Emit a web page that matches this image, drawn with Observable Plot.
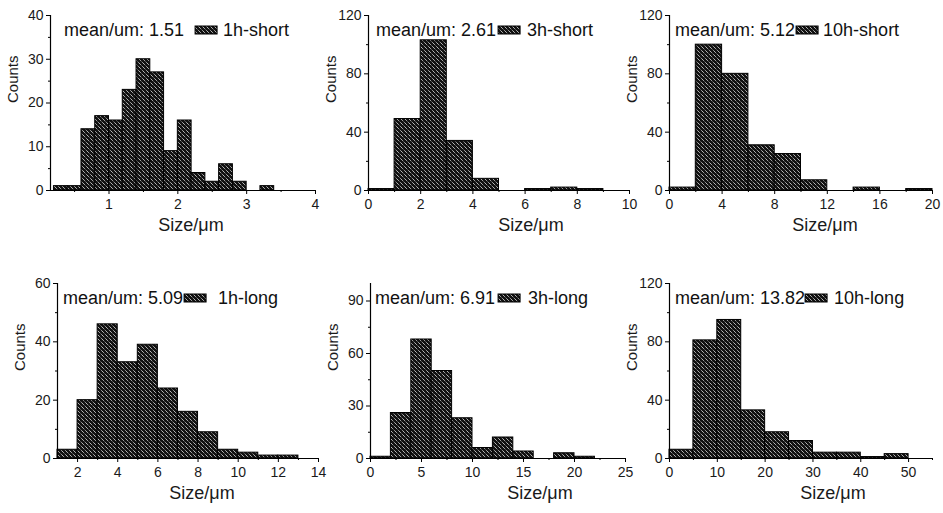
<!DOCTYPE html>
<html><head><meta charset="utf-8">
<script src="https://cdn.jsdelivr.net/npm/d3@7"></script>
<script src="https://cdn.jsdelivr.net/npm/@observablehq/plot@0.6"></script>
<style>
body{margin:0;background:#fff;}
#root{position:relative;width:943px;height:513px;overflow:hidden;background:#fff;font-family:"Liberation Sans",Arial,sans-serif;}
#root svg{position:absolute;overflow:visible;}
</style></head><body>
<svg width="0" height="0" style="position:absolute"><defs>
<pattern id="hatch" patternUnits="userSpaceOnUse" width="4" height="4">
<rect width="4" height="4" fill="#111"/>
<path d="M-1,-1 L5,5 M-1,3 L1,5 M3,-1 L5,1" stroke="#fff" stroke-width="1" stroke-dasharray="1,1"/>
</pattern></defs></svg>
<div id="root"></div>
<script>
// ---- data ----
const sampleNames = ["1h-short","3h-short","10h-short","1h-long","3h-long","10h-long"];
const meanLabels = ["1.51","2.61","5.12","5.09","6.91","13.82"];

const edges_1hShort = [0.2,0.4,0.6,0.8,1.0,1.2,1.4,1.6,1.8,2.0,2.2,2.4,2.6,2.8,3.0,3.2,3.4];
const counts_1hShort = [1,1,14,17,16,23,30,27,9,16,4,2,6,2,0,1];
const edges_3hShort = [0,1,2,3,4,5,6,7,8,9];
const counts_3hShort = [1,49,103,34,8,0,1,2,1];
const edges_10hShort = [0,2,4,6,8,10,12,14,16,18,20];
const counts_10hShort = [2,100,80,31,25,7,0,2,0,1];
const edges_1hLong = [1,2,3,4,5,6,7,8,9,10,11,12,13];
const counts_1hLong = [3,20,46,33,39,24,16,9,3,2,1,1];
const edges_3hLong = [0,2,4,6,8,10,12,14,16,18,20,22];
const counts_3hLong = [1,26,68,50,23,6,12,4,0,3,1];
const edges_10hLong = [0,5,10,15,20,25,30,35,40,45,50];
const counts_10hLong = [6,81,95,33,18,12,4,4,1,3];

const xDomains = [[0.15,4],[0,10],[0,20],[1,14],[0,25],[0,55]];
const yDomains = [[0,40],[0,120],[0,120],[0,60],[0,100],[0,120]];
const xTicks = [[1,2,3,4],[0,2,4,6,8,10],[0,4,8,12,16,20],[2,4,6,8,10,12,14],[0,5,10,15,20,25],[0,10,20,30,40,50]];
const xMinor = [[0.5,1.5,2.5,3.5],[1,3,5,7,9],[2,6,10,14,18],[3,5,7,9,11,13],[2.5,7.5,12.5,17.5,22.5],[5,15,25,35,45,55]];
const yTicks = [[0,10,20,30,40],[0,40,80,120],[0,40,80,120],[0,20,40,60],[0,30,60,90],[0,40,80,120]];
const yMinor = [[5,15,25,35],[20,60,100],[20,60,100],[10,30,50],[15,45,75],[20,60,100]];

const allEdges = [edges_1hShort,edges_3hShort,edges_10hShort,edges_1hLong,edges_3hLong,edges_10hLong];
const allCounts = [counts_1hShort,counts_3hShort,counts_10hShort,counts_1hLong,counts_3hLong,counts_10hLong];

// ---- layout ----
const ML = 50, MR = 10, MT = 15, MB = 55, H = 175;
const layout = [
  {ax:50,  row:0,   w:265, titleDx:8,  legDx:14, swGap:11, lbGap:6},
  {ax:368, row:0,   w:261, titleDx:32, legDx:8,  swGap:2,  lbGap:7},
  {ax:669, row:0,   w:263, titleDx:24, legDx:6,  swGap:1,  lbGap:5},
  {ax:57,  row:268, w:261, titleDx:14, legDx:6,  swGap:1,  lbGap:12},
  {ax:370, row:268, w:255, titleDx:42, legDx:5,  swGap:3,  lbGap:8},
  {ax:669, row:268, w:263, titleDx:32, legDx:6,  swGap:0,  lbGap:7}
];

const root = document.getElementById("root");

sampleNames.forEach((name, i) => {
  const L = layout[i];
  const edges = allEdges[i], counts = allCounts[i];
  const bins = counts.map((c, j) => ({x1: edges[j], x2: edges[j+1], count: c}));
  const svg = Plot.plot({
    width: ML + L.w + MR, height: MT + H + MB,
    marginLeft: ML, marginRight: MR, marginTop: MT, marginBottom: MB,
    style: {fontFamily: '"Liberation Sans", Arial, sans-serif', fontSize: "14px", color: "#1a1a1a", background: "transparent", overflow: "visible"},
    x: {domain: xDomains[i]},
    y: {domain: yDomains[i]},
    marks: [
      Plot.rect(bins, {x1: "x1", x2: "x2", y1: 0, y2: "count", fill: "url(#hatch)", stroke: "#000", strokeWidth: 1}),
      Plot.ruleY([yDomains[i][0]], {stroke: "#000", strokeWidth: 1.2}),
      Plot.ruleX([xDomains[i][0]], {stroke: "#000", strokeWidth: 1.2}),
      Plot.axisX(xTicks[i], {tickSize: 4, tickPadding: 5, label: null, stroke: "#000"}),
      Plot.axisX(xMinor[i], {tickSize: 2, fill: "none", label: null, stroke: "#000"}),
      Plot.axisY(yTicks[i], {tickSize: 4, tickPadding: 3, label: null, stroke: "#000"}),
      Plot.axisY(yMinor[i], {tickSize: 2, fill: "none", label: null, stroke: "#000"}),
      Plot.text(["Size/μm"], {text: d => d, frameAnchor: "bottom", dy: 40, dx: L.titleDx, fontSize: 18}),
      Plot.text(["Counts"], {text: d => d, frameAnchor: "left", dx: -37, rotate: -90, fontSize: 15})
    ]
  });
  svg.style.left = (L.ax - ML) + "px";
  svg.style.top = L.row + "px";
  root.appendChild(svg);

  // legend
  const g = d3.select(svg).append("g").attr("font-size", 18).attr("fill", "#111")
    .attr("text-anchor", "start")
    .attr("font-family", '"Liberation Sans", Arial, sans-serif');
  const t1 = g.append("text").attr("x", ML + L.legDx).attr("y", MT + 15).attr("dy", "0.35em")
    .attr("text-anchor", "start")
    .text("mean/um: " + meanLabels[i]);
  const w1 = t1.node().getComputedTextLength();
  const sx = ML + L.legDx + w1 + L.swGap;
  g.append("rect").attr("x", sx).attr("y", MT + 11).attr("width", 22).attr("height", 8)
    .attr("fill", "url(#hatch)").attr("stroke", "#000").attr("stroke-width", 1);
  g.append("text").attr("x", sx + 22 + L.lbGap).attr("y", MT + 15).attr("dy", "0.35em")
    .attr("text-anchor", "start").text(name);
});
</script>
</body></html>
